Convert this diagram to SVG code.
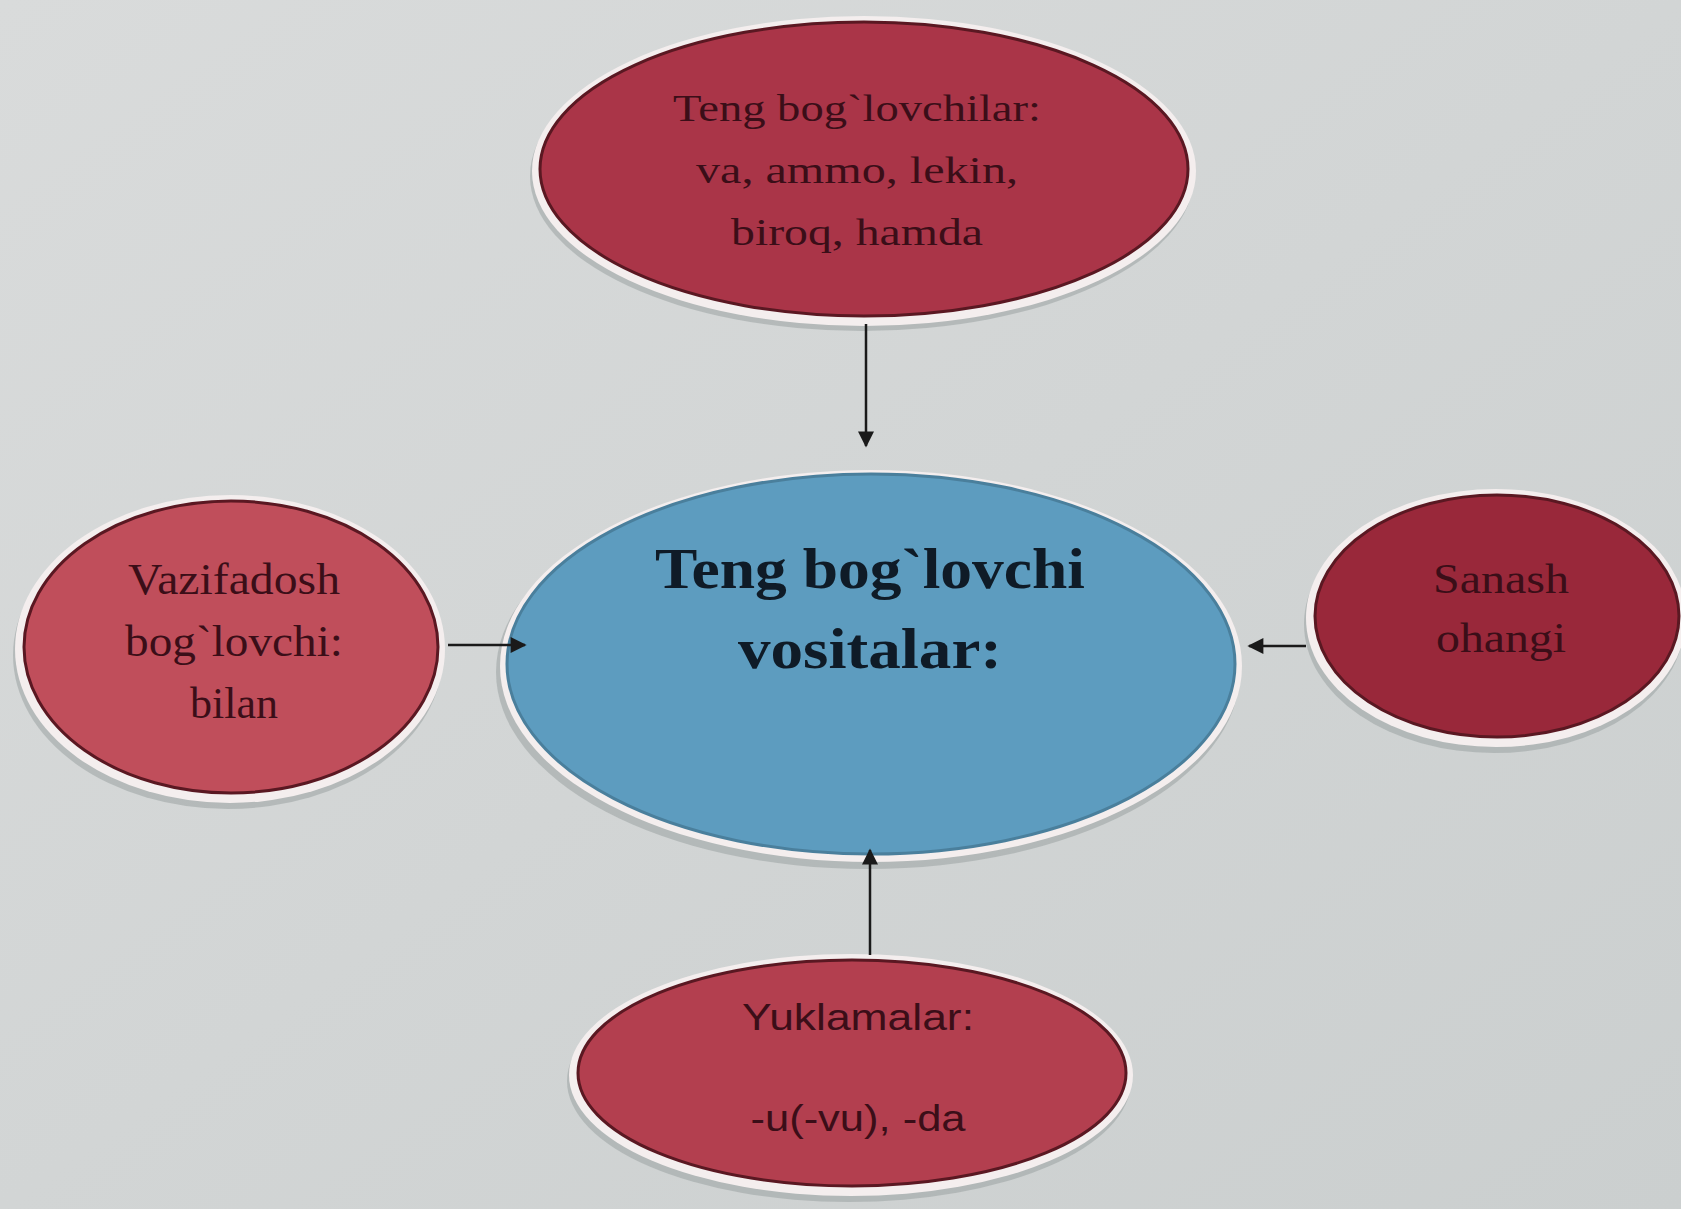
<svg xmlns="http://www.w3.org/2000/svg" width="1681" height="1209" viewBox="0 0 1681 1209">
<style>
.rim{fill:#f4eeee;stroke:none}
.shadow{fill:#9aa3a2;opacity:0.55}
.red{stroke:#5a1822;stroke-width:3}
.blue{fill:#5d9cbf;stroke:#4a7f9c;stroke-width:3}
.t{font-family:"Liberation Serif","Times New Roman",serif;fill:#3b0e18;text-anchor:middle}
.tc{font-family:"Liberation Serif","Times New Roman",serif;font-weight:bold;fill:#0f1b27;text-anchor:middle;font-size:56px}
.ts{font-family:"Liberation Sans",Arial,sans-serif;fill:#3b0e18;text-anchor:middle}
.conn{stroke:#1a1a1a;stroke-width:2.5;fill:none}
</style>
<defs>
<marker id="ah" viewBox="0 0 10 10" refX="9" refY="5" markerWidth="18" markerHeight="16" orient="auto" markerUnits="userSpaceOnUse">
<path d="M0,0 L10,5 L0,10 z" fill="#1a1a1a"/>
</marker>
<linearGradient id="bg" x1="0" y1="0" x2="1" y2="1">
<stop offset="0" stop-color="#d9dbdb"/>
<stop offset="0.5" stop-color="#d2d5d5"/>
<stop offset="1" stop-color="#cbcfcf"/>
</linearGradient>
</defs>
<rect width="1681" height="1209" fill="url(#bg)"/>

<g id="node-top">
<ellipse class="shadow" cx="862" cy="176" rx="332" ry="155"/>
<ellipse class="rim" cx="864" cy="171" rx="332" ry="155"/>
<ellipse class="red" cx="864" cy="169" rx="324" ry="147" fill="#aa3548"/>
<text class="t" font-size="38" x="857" y="121" textLength="368" lengthAdjust="spacingAndGlyphs">Teng bog`lovchilar:</text>
<text class="t" font-size="38" x="857" y="183" textLength="322" lengthAdjust="spacingAndGlyphs">va, ammo, lekin,</text>
<text class="t" font-size="38" x="857" y="245" textLength="252" lengthAdjust="spacingAndGlyphs">biroq, hamda</text>
</g>

<g id="node-center">
<ellipse class="shadow" cx="868" cy="672" rx="372" ry="197"/>
<ellipse class="rim" cx="871" cy="666" rx="371" ry="196"/>
<ellipse class="blue" cx="871" cy="664" rx="364" ry="190"/>
<text class="tc" x="870" y="588" textLength="430" lengthAdjust="spacingAndGlyphs">Teng bog`lovchi</text>
<text class="tc" x="870" y="668" textLength="264" lengthAdjust="spacingAndGlyphs">vositalar:</text>
</g>

<g id="node-left">
<ellipse class="shadow" cx="228" cy="655" rx="215" ry="154"/>
<ellipse class="rim" cx="230" cy="649" rx="215" ry="154"/>
<ellipse class="red" cx="231" cy="647" rx="207" ry="146" fill="#c04e5b"/>
<text class="t" font-size="44" x="234" y="594" textLength="212" lengthAdjust="spacingAndGlyphs">Vazifadosh</text>
<text class="t" font-size="44" x="234" y="656" textLength="218" lengthAdjust="spacingAndGlyphs">bog`lovchi:</text>
<text class="t" font-size="44" x="234" y="718">bilan</text>
</g>

<g id="node-right">
<ellipse class="shadow" cx="1494" cy="624" rx="190" ry="129"/>
<ellipse class="rim" cx="1496" cy="618" rx="190" ry="129"/>
<ellipse class="red" cx="1497" cy="616" rx="182" ry="121" fill="#99283a"/>
<text class="t" font-size="42" x="1501" y="593" textLength="136" lengthAdjust="spacingAndGlyphs">Sanash</text>
<text class="t" font-size="42" x="1501" y="652" textLength="130" lengthAdjust="spacingAndGlyphs">ohangi</text>
</g>

<g id="node-bottom">
<ellipse class="shadow" cx="849" cy="1081" rx="282" ry="121"/>
<ellipse class="rim" cx="851" cy="1075" rx="282" ry="121"/>
<ellipse class="red" cx="852" cy="1073" rx="274" ry="113" fill="#b33f4f"/>
<text class="ts" font-size="36" x="858" y="1030" textLength="232" lengthAdjust="spacingAndGlyphs">Yuklamalar:</text>
<text class="ts" font-size="36" x="858" y="1131" textLength="215" lengthAdjust="spacingAndGlyphs">-u(-vu), -da</text>
</g>

<g id="connectors">
<line class="conn" x1="866" y1="324" x2="866" y2="446" marker-end="url(#ah)"/>
<line class="conn" x1="448" y1="645" x2="525" y2="645" marker-end="url(#ah)"/>
<line class="conn" x1="1306" y1="646" x2="1249" y2="646" marker-end="url(#ah)"/>
<line class="conn" x1="870" y1="955" x2="870" y2="850" marker-end="url(#ah)"/>
</g>
</svg>
